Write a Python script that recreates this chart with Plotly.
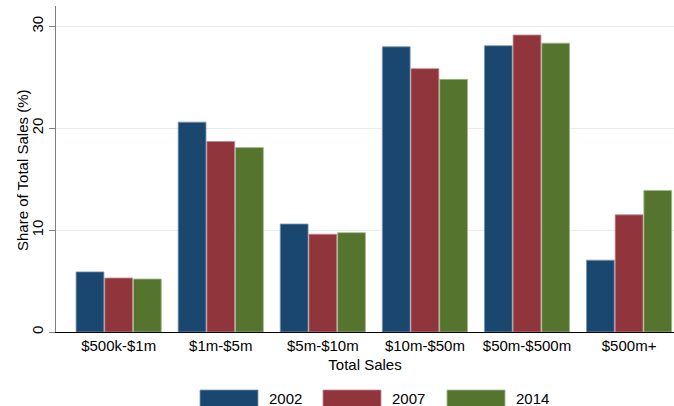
import plotly.graph_objects as go

categories = ["$500k-$1m", "$1m-$5m", "$5m-$10m", "$10m-$50m", "$50m-$500m", "$500m+"]
years = ["2002", "2007", "2014"]
share_2002 = [5.9, 20.6, 10.6, 28.0, 28.1, 7.05]
share_2007 = [5.3, 18.7, 9.6, 25.85, 29.15, 11.5]
share_2014 = [5.2, 18.1, 9.75, 24.8, 28.35, 13.9]
y_ticks = [0, 10, 20, 30]

series = [share_2002, share_2007, share_2014]
colors = ["#1a476f", "#90353b", "#55752f"]
edge = ["#7d97ad", "#c08a8e", "#a4b78e"]

W, H = 674, 406
ML, MR, MT, MB = 56, 0, 6, 74

fig = go.Figure()
for yr, vals, c, e in zip(years, series, colors, edge):
    fig.add_trace(go.Bar(
        x=list(range(len(categories))), y=vals, name=yr,
        marker=dict(color=c, line=dict(color=e, width=0.8)),
        showlegend=False,
    ))

font = "Liberation Sans, Arial, Helvetica, sans-serif"
fig.update_layout(
    width=W, height=H,
    margin=dict(l=ML, r=MR, t=MT, b=MB, pad=0),
    paper_bgcolor="white", plot_bgcolor="white",
    barmode="group", bargap=0.157, bargroupgap=0.03,
    font=dict(family=font, size=15, color="black"),
)
fig.update_xaxes(
    range=[-0.614, 5.44],
    tickmode="array", tickvals=list(range(len(categories))), ticktext=categories,
    showgrid=False, zeroline=False,
    showline=True, linecolor="black", linewidth=1.2,
    ticks="", tickfont=dict(size=15),
    title=dict(text="Total Sales", font=dict(size=15), standoff=6),
)
fig.update_yaxes(
    range=[0, 32.0],
    tickmode="array", tickvals=y_ticks, ticktext=[str(t) for t in y_ticks],
    tickangle=-90,
    showgrid=True, gridcolor="#e4eef0", gridwidth=1,
    zeroline=False,
    showline=True, linecolor="#808080", linewidth=1.4,
    ticks="outside", ticklen=6, tickcolor="#808080", tickwidth=1.2,
    tickfont=dict(size=15),
)

pw = W - ML - MR
ph = H - MT - MB
def px_x(p):
    return (p - ML) / pw
def px_y(p):
    return (H - MB - p) / ph

# y-axis title placed next to the tick labels
fig.add_annotation(xref="paper", yref="paper", x=px_x(22), y=px_y(171),
                   text="Share of Total Sales (%)", textangle=-90, showarrow=False,
                   xanchor="center", yanchor="middle", font=dict(size=15))

# custom wide-swatch legend (paper coordinates)
sw_left = [200, 323, 447]
sw_w = 58
for yr, c, e, xl in zip(years, colors, edge, sw_left):
    fig.add_shape(type="rect", xref="paper", yref="paper",
                  x0=px_x(xl), x1=px_x(xl + sw_w), y0=px_y(407), y1=px_y(390),
                  fillcolor=c, line=dict(color=e, width=0.8))
    fig.add_annotation(xref="paper", yref="paper", x=px_x(xl + sw_w + 9), y=px_y(398),
                       text=yr, showarrow=False, xanchor="left", yanchor="middle",
                       font=dict(size=15))

fig.write_html("out.html", config={"displayModeBar": False},
               post_script="document.body.style.margin='0';document.body.style.overflow='hidden';")
